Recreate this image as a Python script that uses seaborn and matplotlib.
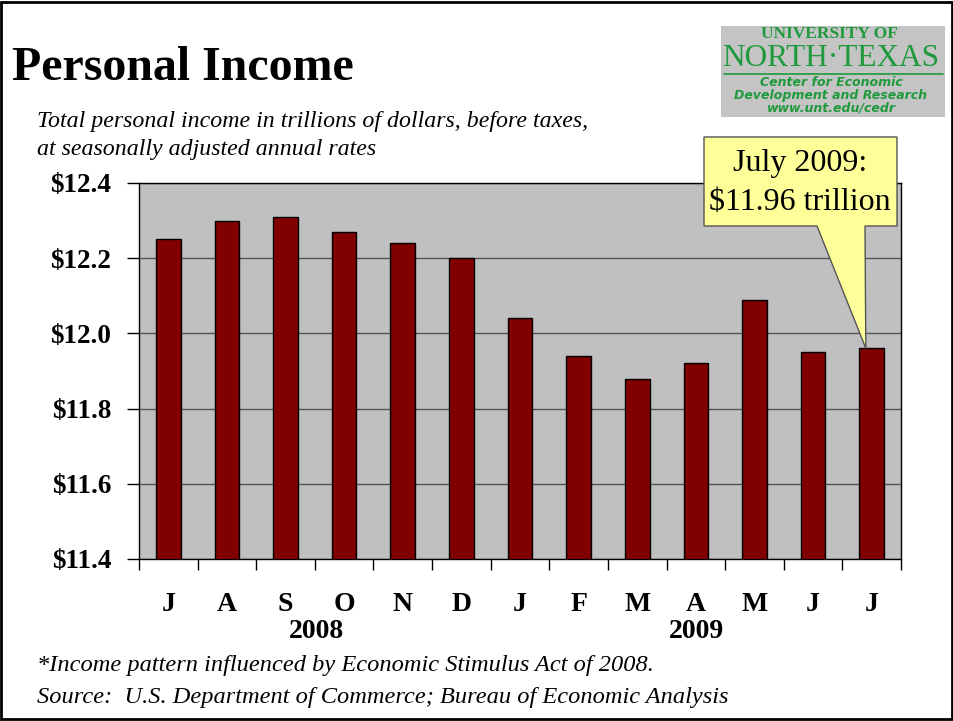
import matplotlib
matplotlib.use("Agg")
import matplotlib.pyplot as plt
import seaborn as sns
import pandas as pd
import numpy as np
from matplotlib.patches import Rectangle, Polygon

months = ["J", "A", "S", "O", "N", "D", "J", "F", "M", "A", "M", "J", "J"]
keys = ["Jul08", "Aug08", "Sep08", "Oct08", "Nov08", "Dec08", "Jan09",
        "Feb09", "Mar09", "Apr09", "May09", "Jun09", "Jul09"]
income = [12.25, 12.30, 12.31, 12.27, 12.24, 12.20, 12.04, 11.94, 11.88,
          11.92, 12.09, 11.95, 11.96]
years = ["2008", "2009"]
yticks = [11.4, 11.6, 11.8, 12.0, 12.2, 12.4]

sns.set_style("white")
plt.rcParams['font.family'] = ['Liberation Serif', 'DejaVu Serif']
plt.rcParams['text.color'] = 'black'
plt.rcParams['xtick.color'] = 'black'
plt.rcParams['ytick.color'] = 'black'
plt.rcParams['xtick.labelcolor'] = 'black'
plt.rcParams['ytick.labelcolor'] = 'black'

W, H = 954, 721
fig = plt.figure(figsize=(W / 100, H / 100), dpi=100)

def fx(px):
    return px / W

def fy(py):
    return 1 - py / H

# frame around whole figure
fig.add_artist(Rectangle((fx(1), fy(719)), fx(951), (717) / H, transform=fig.transFigure,
                         fill=False, edgecolor="black", lw=2))

ax = fig.add_axes([fx(139), fy(559), fx(762), (559 - 183) / H])
df = pd.DataFrame({"month": keys, "income": income})
sns.barplot(data=df, x="month", y="income", color="#800000", width=0.42,
            edgecolor="black", linewidth=1, saturation=1, ax=ax, zorder=3)
ax.set_facecolor("#C0C0C0")
ax.set_ylim(11.4, 12.4)
ax.set_xlim(-0.5, len(keys) - 0.5)
ax.set_yticks(yticks)
ax.set_yticklabels([f"${v:.1f}" for v in yticks], fontsize=19.5, fontweight="bold")
ax.yaxis.grid(True, color="#555555", lw=1, zorder=1)
ax.set_axisbelow(True)
ax.set_xticks(range(len(keys)))
ax.set_xticklabels(months, fontsize=20, fontweight="bold")
ax.set_xticks(np.arange(-0.5, len(keys), 1.0), minor=True)
ax.tick_params(axis="x", which="major", length=0, pad=24, bottom=True)
ax.tick_params(axis="x", which="minor", length=8, width=1, color="black", direction="out", bottom=True)
ax.tick_params(axis="y", which="major", length=9, width=1, color="black", direction="out", pad=11, left=True)
ax.set_xlabel("")
ax.set_ylabel("")
for s in ax.spines.values():
    s.set_visible(True)
    s.set_color("black")
    s.set_linewidth(1)

# year labels
fig.text(fx(316), fy(631), years[0], fontsize=20, fontweight="bold", ha="center", va="center")
fig.text(fx(697), fy(631), years[1], fontsize=20, fontweight="bold", ha="center", va="center")

# title & subtitle
fig.text(fx(12), fy(68), "Personal Income", fontsize=34.5, fontweight="bold", ha="left", va="center")
fig.text(fx(37), fy(121), "Total personal income in trillions of dollars, before taxes,",
         fontsize=17.2, style="italic", ha="left", va="center")
fig.text(fx(37), fy(149), "at seasonally adjusted annual rates",
         fontsize=17.2, style="italic", ha="left", va="center")

# footnotes
fig.text(fx(37), fy(665), "*Income pattern influenced by Economic Stimulus Act of 2008.",
         fontsize=17.6, style="italic", ha="left", va="center")
fig.text(fx(37), fy(697), "Source:  U.S. Department of Commerce; Bureau of Economic Analysis",
         fontsize=17.6, style="italic", ha="left", va="center")

# logo
fig.add_artist(Rectangle((fx(721), fy(117)), fx(224), (117 - 26) / H, transform=fig.transFigure,
                         facecolor="#C4C4C4", edgecolor="none"))
green = "#1E9A3C"
fig.text(fx(829), fy(34), "UNIVERSITY OF", fontsize=12.5, color=green, ha="center", va="center",
         family=["Liberation Serif"], fontweight="bold")
fig.text(fx(831), fy(59), "NORTH\u00b7TEXAS", fontsize=22.5, color=green, ha="center", va="center",
         family=["Liberation Serif"])
fig.add_artist(plt.Line2D([fx(724), fx(943)], [fy(74), fy(74)], transform=fig.transFigure,
                          color=green, lw=1.2))
for txt, y in [("Center for Economic", 83), ("Development and Research", 96), ("www.unt.edu/cedr", 108)]:
    fig.text(fx(831), fy(y), txt, fontsize=9, color=green, ha="center", va="center",
             style="italic", fontweight="bold", family=["DejaVu Sans"])

# callout
tip_x, tip_y = ax.transData.transform((11.9, income[-1]))
tip = fig.transFigure.inverted().transform((tip_x, tip_y))
poly = Polygon([(fx(704), fy(137)), (fx(897), fy(137)), (fx(897), fy(226)),
                (fx(865), fy(226)), tuple(tip), (fx(817), fy(226)), (fx(704), fy(226))],
               closed=True, transform=fig.transFigure, facecolor="#FFFF99",
               edgecolor="#555555", lw=1, zorder=10)
fig.add_artist(poly)
fig.text(fx(800), fy(164), "July 2009:", fontsize=23, ha="center", va="center", zorder=11)
fig.text(fx(800), fy(203), "$11.96 trillion", fontsize=23, ha="center", va="center", zorder=11)

fig.savefig("out.png", dpi=100)
